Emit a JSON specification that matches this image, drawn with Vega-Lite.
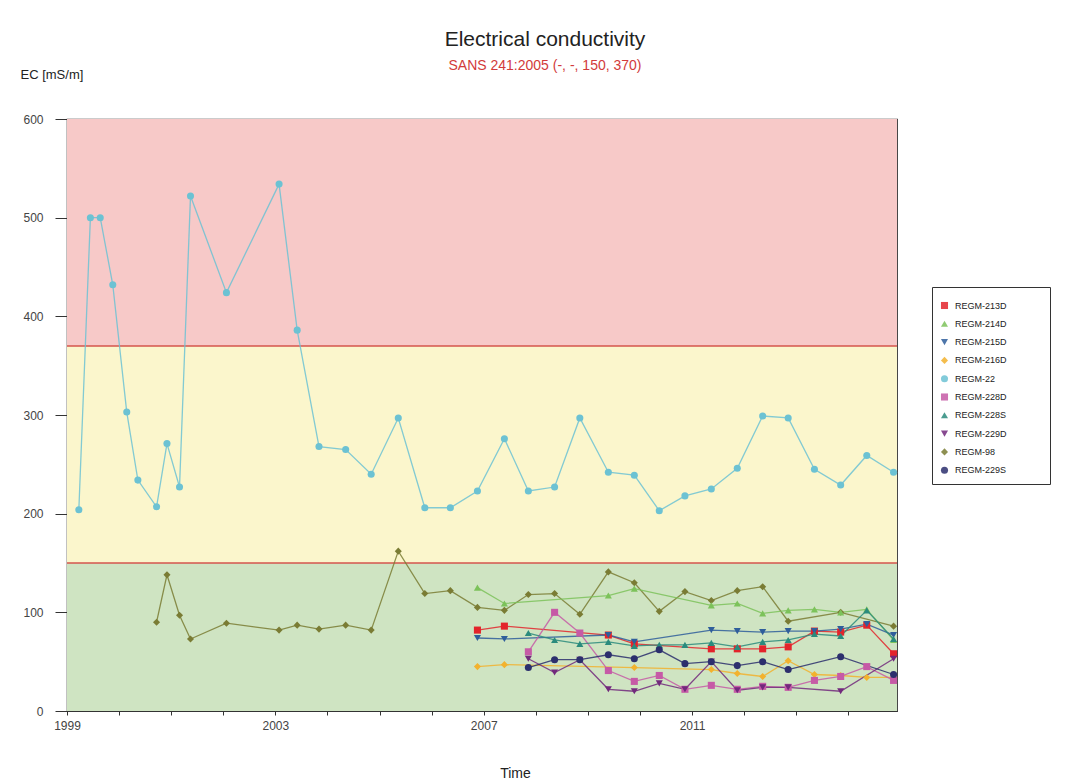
{
  "$schema": "https://vega.github.io/schema/vega-lite/v6.json",
  "autosize": {"type": "none"},
  "padding": {"left": 67, "top": 119, "right": 175, "bottom": 73},
  "width": 830,
  "height": 592,
  "background": "white",
  "title": {
    "text": "Electrical conductivity",
    "subtitle": "SANS 241:2005 (-, -, 150, 370)",
    "anchor": "middle",
    "frame": "group",
    "dx": 63,
    "offset": -5,
    "font": "Liberation Sans",
    "fontSize": 21,
    "fontWeight": "normal",
    "color": "#222222",
    "subtitleFont": "Liberation Sans",
    "subtitleFontSize": 14,
    "subtitleColor": "#d23b3b",
    "subtitlePadding": 9
  },
  "config": {
    "view": {"stroke": "#333333", "strokeWidth": 1.2},
    "axis": {
      "labelFont": "Liberation Sans",
      "labelColor": "#444444",
      "titleFont": "Liberation Sans",
      "titleFontWeight": "normal",
      "titleColor": "#222222",
      "domainColor": "#333333",
      "tickColor": "#333333",
      "grid": false
    },
    "axisY": {
      "labelFontSize": 12,
      "tickSize": 12,
      "labelPadding": 12,
      "titleAngle": 0,
      "titleAlign": "left",
      "titleBaseline": "middle",
      "titleFontSize": 13,
      "titleX": -47,
      "titleY": -45
    },
    "legend": {
      "orient": "none",
      "legendX": 865,
      "legendY": 168,
      "padding": 8,
      "rowPadding": 8.3,
      "strokeColor": "#333333",
      "fillColor": "white",
      "titleFontSize": 6,
      "titlePadding": 0,
      "labelFont": "Liberation Sans",
      "labelFontSize": 9,
      "labelColor": "#222222",
      "labelOffset": 6,
      "symbolSize": 50,
      "symbolStrokeWidth": 0
    }
  },
  "datasets": {
    "bands": [
      {"zone": "acceptable", "lo": 0, "hi": 150},
      {"zone": "elevated", "lo": 150, "hi": 370},
      {"zone": "excessive", "lo": 370, "hi": 600}
    ],
    "limits": [{"limit": 150}, {"limit": 370}],
    "ec": [
      {"site": "REGM-22", "date": "1999-03-25", "ec": 204},
      {"site": "REGM-22", "date": "1999-06-14", "ec": 500},
      {"site": "REGM-22", "date": "1999-08-22", "ec": 500},
      {"site": "REGM-22", "date": "1999-11-18", "ec": 432},
      {"site": "REGM-22", "date": "2000-02-24", "ec": 303},
      {"site": "REGM-22", "date": "2000-05-12", "ec": 234},
      {"site": "REGM-22", "date": "2000-09-20", "ec": 207},
      {"site": "REGM-22", "date": "2000-12-02", "ec": 271},
      {"site": "REGM-22", "date": "2001-02-28", "ec": 227},
      {"site": "REGM-22", "date": "2001-05-16", "ec": 522},
      {"site": "REGM-22", "date": "2002-01-23", "ec": 424},
      {"site": "REGM-22", "date": "2003-01-27", "ec": 534},
      {"site": "REGM-22", "date": "2003-06-03", "ec": 386},
      {"site": "REGM-22", "date": "2003-11-03", "ec": 268},
      {"site": "REGM-22", "date": "2004-05-08", "ec": 265},
      {"site": "REGM-22", "date": "2004-11-03", "ec": 240},
      {"site": "REGM-22", "date": "2005-05-12", "ec": 297},
      {"site": "REGM-22", "date": "2005-11-14", "ec": 206},
      {"site": "REGM-22", "date": "2006-05-12", "ec": 206},
      {"site": "REGM-22", "date": "2006-11-18", "ec": 223},
      {"site": "REGM-22", "date": "2007-05-26", "ec": 276},
      {"site": "REGM-22", "date": "2007-11-10", "ec": 223},
      {"site": "REGM-22", "date": "2008-05-12", "ec": 227},
      {"site": "REGM-22", "date": "2008-11-05", "ec": 297},
      {"site": "REGM-22", "date": "2009-05-24", "ec": 242},
      {"site": "REGM-22", "date": "2009-11-22", "ec": 239},
      {"site": "REGM-22", "date": "2010-05-16", "ec": 203},
      {"site": "REGM-22", "date": "2010-11-12", "ec": 218},
      {"site": "REGM-22", "date": "2011-05-16", "ec": 225},
      {"site": "REGM-22", "date": "2011-11-14", "ec": 246},
      {"site": "REGM-22", "date": "2012-05-10", "ec": 299},
      {"site": "REGM-22", "date": "2012-11-05", "ec": 297},
      {"site": "REGM-22", "date": "2013-05-08", "ec": 245},
      {"site": "REGM-22", "date": "2013-11-08", "ec": 229},
      {"site": "REGM-22", "date": "2014-05-10", "ec": 259},
      {"site": "REGM-22", "date": "2014-11-14", "ec": 242},

      {"site": "REGM-98", "date": "2000-09-20", "ec": 90},
      {"site": "REGM-98", "date": "2000-12-02", "ec": 138},
      {"site": "REGM-98", "date": "2001-02-28", "ec": 97},
      {"site": "REGM-98", "date": "2001-05-16", "ec": 73},
      {"site": "REGM-98", "date": "2002-01-23", "ec": 89},
      {"site": "REGM-98", "date": "2003-01-27", "ec": 82},
      {"site": "REGM-98", "date": "2003-06-03", "ec": 87},
      {"site": "REGM-98", "date": "2003-11-03", "ec": 83},
      {"site": "REGM-98", "date": "2004-05-08", "ec": 87},
      {"site": "REGM-98", "date": "2004-11-03", "ec": 82},
      {"site": "REGM-98", "date": "2005-05-12", "ec": 162},
      {"site": "REGM-98", "date": "2005-11-14", "ec": 119},
      {"site": "REGM-98", "date": "2006-05-12", "ec": 122},
      {"site": "REGM-98", "date": "2006-11-18", "ec": 105},
      {"site": "REGM-98", "date": "2007-05-26", "ec": 102},
      {"site": "REGM-98", "date": "2007-11-10", "ec": 118},
      {"site": "REGM-98", "date": "2008-05-12", "ec": 119},
      {"site": "REGM-98", "date": "2008-11-05", "ec": 98},
      {"site": "REGM-98", "date": "2009-05-24", "ec": 141},
      {"site": "REGM-98", "date": "2009-11-22", "ec": 130},
      {"site": "REGM-98", "date": "2010-05-16", "ec": 101},
      {"site": "REGM-98", "date": "2010-11-12", "ec": 121},
      {"site": "REGM-98", "date": "2011-05-16", "ec": 112},
      {"site": "REGM-98", "date": "2011-11-14", "ec": 122},
      {"site": "REGM-98", "date": "2012-05-10", "ec": 126},
      {"site": "REGM-98", "date": "2012-11-05", "ec": 91},
      {"site": "REGM-98", "date": "2013-11-08", "ec": 100},
      {"site": "REGM-98", "date": "2014-11-14", "ec": 86},

      {"site": "REGM-213D", "date": "2006-11-18", "ec": 82},
      {"site": "REGM-213D", "date": "2007-05-26", "ec": 86},
      {"site": "REGM-213D", "date": "2009-05-24", "ec": 77},
      {"site": "REGM-213D", "date": "2009-11-22", "ec": 68},
      {"site": "REGM-213D", "date": "2011-05-16", "ec": 63},
      {"site": "REGM-213D", "date": "2011-11-14", "ec": 63},
      {"site": "REGM-213D", "date": "2012-05-10", "ec": 63},
      {"site": "REGM-213D", "date": "2012-11-05", "ec": 65},
      {"site": "REGM-213D", "date": "2013-05-08", "ec": 81},
      {"site": "REGM-213D", "date": "2013-11-08", "ec": 80},
      {"site": "REGM-213D", "date": "2014-05-10", "ec": 87},
      {"site": "REGM-213D", "date": "2014-11-14", "ec": 58},

      {"site": "REGM-214D", "date": "2006-11-18", "ec": 125},
      {"site": "REGM-214D", "date": "2007-05-26", "ec": 109},
      {"site": "REGM-214D", "date": "2009-05-24", "ec": 117},
      {"site": "REGM-214D", "date": "2009-11-22", "ec": 124},
      {"site": "REGM-214D", "date": "2011-05-16", "ec": 107},
      {"site": "REGM-214D", "date": "2011-11-14", "ec": 109},
      {"site": "REGM-214D", "date": "2012-05-10", "ec": 99},
      {"site": "REGM-214D", "date": "2012-11-05", "ec": 102},
      {"site": "REGM-214D", "date": "2013-05-08", "ec": 103},
      {"site": "REGM-214D", "date": "2013-11-08", "ec": 100},
      {"site": "REGM-214D", "date": "2014-05-10", "ec": 103},
      {"site": "REGM-214D", "date": "2014-11-14", "ec": 72},

      {"site": "REGM-215D", "date": "2006-11-18", "ec": 74},
      {"site": "REGM-215D", "date": "2007-05-26", "ec": 73},
      {"site": "REGM-215D", "date": "2009-05-24", "ec": 77},
      {"site": "REGM-215D", "date": "2009-11-22", "ec": 70},
      {"site": "REGM-215D", "date": "2011-05-16", "ec": 82},
      {"site": "REGM-215D", "date": "2011-11-14", "ec": 81},
      {"site": "REGM-215D", "date": "2012-05-10", "ec": 80},
      {"site": "REGM-215D", "date": "2012-11-05", "ec": 81},
      {"site": "REGM-215D", "date": "2013-05-08", "ec": 81},
      {"site": "REGM-215D", "date": "2013-11-08", "ec": 83},
      {"site": "REGM-215D", "date": "2014-05-10", "ec": 88},
      {"site": "REGM-215D", "date": "2014-11-14", "ec": 77},

      {"site": "REGM-216D", "date": "2006-11-18", "ec": 45},
      {"site": "REGM-216D", "date": "2007-05-26", "ec": 47},
      {"site": "REGM-216D", "date": "2009-11-22", "ec": 44},
      {"site": "REGM-216D", "date": "2011-05-16", "ec": 42},
      {"site": "REGM-216D", "date": "2011-11-14", "ec": 38},
      {"site": "REGM-216D", "date": "2012-05-10", "ec": 35},
      {"site": "REGM-216D", "date": "2012-11-05", "ec": 51},
      {"site": "REGM-216D", "date": "2013-05-08", "ec": 37},
      {"site": "REGM-216D", "date": "2013-11-08", "ec": 36},
      {"site": "REGM-216D", "date": "2014-05-10", "ec": 34},
      {"site": "REGM-216D", "date": "2014-11-14", "ec": 34},

      {"site": "REGM-228D", "date": "2007-11-10", "ec": 60},
      {"site": "REGM-228D", "date": "2008-05-12", "ec": 100},
      {"site": "REGM-228D", "date": "2008-11-05", "ec": 79},
      {"site": "REGM-228D", "date": "2009-05-24", "ec": 41},
      {"site": "REGM-228D", "date": "2009-11-22", "ec": 30},
      {"site": "REGM-228D", "date": "2010-05-16", "ec": 36},
      {"site": "REGM-228D", "date": "2010-11-12", "ec": 22},
      {"site": "REGM-228D", "date": "2011-05-16", "ec": 26},
      {"site": "REGM-228D", "date": "2011-11-14", "ec": 22},
      {"site": "REGM-228D", "date": "2012-05-10", "ec": 25},
      {"site": "REGM-228D", "date": "2012-11-05", "ec": 24},
      {"site": "REGM-228D", "date": "2013-05-08", "ec": 31},
      {"site": "REGM-228D", "date": "2013-11-08", "ec": 35},
      {"site": "REGM-228D", "date": "2014-05-10", "ec": 45},
      {"site": "REGM-228D", "date": "2014-11-14", "ec": 31},

      {"site": "REGM-228S", "date": "2007-11-10", "ec": 79},
      {"site": "REGM-228S", "date": "2008-05-12", "ec": 72},
      {"site": "REGM-228S", "date": "2008-11-05", "ec": 68},
      {"site": "REGM-228S", "date": "2009-05-24", "ec": 70},
      {"site": "REGM-228S", "date": "2009-11-22", "ec": 66},
      {"site": "REGM-228S", "date": "2010-05-16", "ec": 67},
      {"site": "REGM-228S", "date": "2010-11-12", "ec": 67},
      {"site": "REGM-228S", "date": "2011-05-16", "ec": 69},
      {"site": "REGM-228S", "date": "2011-11-14", "ec": 65},
      {"site": "REGM-228S", "date": "2012-05-10", "ec": 70},
      {"site": "REGM-228S", "date": "2012-11-05", "ec": 72},
      {"site": "REGM-228S", "date": "2013-05-08", "ec": 78},
      {"site": "REGM-228S", "date": "2013-11-08", "ec": 76},
      {"site": "REGM-228S", "date": "2014-05-10", "ec": 102},
      {"site": "REGM-228S", "date": "2014-11-14", "ec": 73},

      {"site": "REGM-229D", "date": "2007-11-10", "ec": 53},
      {"site": "REGM-229D", "date": "2008-05-12", "ec": 39},
      {"site": "REGM-229D", "date": "2008-11-05", "ec": 52},
      {"site": "REGM-229D", "date": "2009-05-24", "ec": 22},
      {"site": "REGM-229D", "date": "2009-11-22", "ec": 20},
      {"site": "REGM-229D", "date": "2010-05-16", "ec": 28},
      {"site": "REGM-229D", "date": "2010-11-12", "ec": 22},
      {"site": "REGM-229D", "date": "2011-05-16", "ec": 50},
      {"site": "REGM-229D", "date": "2011-11-14", "ec": 21},
      {"site": "REGM-229D", "date": "2012-05-10", "ec": 24},
      {"site": "REGM-229D", "date": "2012-11-05", "ec": 24},
      {"site": "REGM-229D", "date": "2013-11-08", "ec": 20},
      {"site": "REGM-229D", "date": "2014-11-14", "ec": 53},

      {"site": "REGM-229S", "date": "2007-11-10", "ec": 44},
      {"site": "REGM-229S", "date": "2008-05-12", "ec": 52},
      {"site": "REGM-229S", "date": "2008-11-05", "ec": 52},
      {"site": "REGM-229S", "date": "2009-05-24", "ec": 57},
      {"site": "REGM-229S", "date": "2009-11-22", "ec": 53},
      {"site": "REGM-229S", "date": "2010-05-16", "ec": 62},
      {"site": "REGM-229S", "date": "2010-11-12", "ec": 48},
      {"site": "REGM-229S", "date": "2011-05-16", "ec": 50},
      {"site": "REGM-229S", "date": "2011-11-14", "ec": 46},
      {"site": "REGM-229S", "date": "2012-05-10", "ec": 50},
      {"site": "REGM-229S", "date": "2012-11-05", "ec": 42},
      {"site": "REGM-229S", "date": "2013-11-08", "ec": 55},
      {"site": "REGM-229S", "date": "2014-11-14", "ec": 37}
    ]
  },
  "layer": [
    {
      "data": {"name": "bands"},
      "mark": {"type": "rect"},
      "encoding": {
        "y": {"field": "lo", "type": "quantitative", "scale": {"domain": [0, 600], "nice": false}, "axis": {"title": "EC [mS/m]", "values": [0, 100, 200, 300, 400, 500, 600]}},
        "y2": {"field": "hi"},
        "fill": {"field": "zone", "type": "nominal", "legend": null,
          "scale": {"domain": ["acceptable", "elevated", "excessive"], "range": ["#cfe4c2", "#fbf6cc", "#f7c9c8"]}}
      }
    },
    {
      "data": {"name": "limits"},
      "mark": {"type": "rule", "color": "#d4554d", "strokeWidth": 1.5},
      "encoding": {
        "y": {"field": "limit", "type": "quantitative", "axis": {"title": "EC [mS/m]", "values": [0, 100, 200, 300, 400, 500, 600]}}
      }
    },
    {
      "data": {"name": "ec"},
      "encoding": {
        "x": {
          "field": "date",
          "type": "temporal",
          "scale": {"domain": [{"year": 1999, "month": 1, "date": 1}, {"year": 2014, "month": 12, "date": 8}]},
          "axis": {
            "title": "Time",
            "titleFontSize": 14,
            "titleX": 448,
            "titleY": 62,
            "titleAlign": "center",
            "titleBaseline": "middle",
            "values": [
              {"year": 1999}, {"year": 2000}, {"year": 2001}, {"year": 2002},
              {"year": 2003}, {"year": 2004}, {"year": 2005}, {"year": 2006},
              {"year": 2007}, {"year": 2008}, {"year": 2009}, {"year": 2010},
              {"year": 2011}, {"year": 2012}, {"year": 2013}, {"year": 2014}
            ],
            "labelExpr": "(year(datum.value) - 1999) % 4 == 0 ? timeFormat(datum.value, '%Y') : ''",
            "labelFontSize": 12,
            "labelFlush": false,
            "labelOverlap": false,
            "labelPadding": 5,
            "tickSize": 4
          }
        },
        "y": {"field": "ec", "type": "quantitative", "axis": {"title": "EC [mS/m]", "values": [0, 100, 200, 300, 400, 500, 600]}},
        "color": {
          "field": "site",
          "type": "nominal",
          "scale": {
            "domain": ["REGM-213D", "REGM-214D", "REGM-215D", "REGM-216D", "REGM-22", "REGM-228D", "REGM-228S", "REGM-229D", "REGM-98", "REGM-229S"],
            "range": ["#e3242b", "#7cc25a", "#2f5e9b", "#f2b22e", "#6cc2d3", "#c65aa6", "#2b8b7d", "#72297c", "#7a7c34", "#2c2f6d"]
          },
          "legend": {"title": "\u00a0", "labelExpr": "datum.label + '\u2800\u2800\u2800\u2800\u2800'"}
        }
      },
      "layer": [
        {"mark": {"type": "line", "strokeWidth": 1.3, "opacity": 0.85}},
        {
          "mark": {"type": "point", "filled": true, "size": 50, "opacity": 1},
          "encoding": {
            "shape": {
              "field": "site",
              "type": "nominal",
              "scale": {
                "domain": ["REGM-213D", "REGM-214D", "REGM-215D", "REGM-216D", "REGM-22", "REGM-228D", "REGM-228S", "REGM-229D", "REGM-98", "REGM-229S"],
                "range": ["square", "triangle-up", "triangle-down", "diamond", "circle", "square", "triangle-up", "triangle-down", "diamond", "circle"]
              },
              "legend": {"title": "\u00a0", "labelExpr": "datum.label + '\u2800\u2800\u2800\u2800\u2800'"}
            }
          }
        }
      ]
    }
  ]
}
